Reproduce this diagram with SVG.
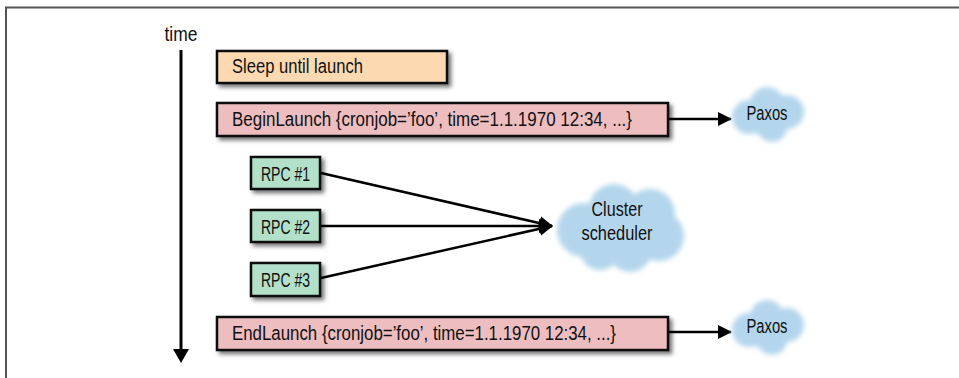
<svg xmlns="http://www.w3.org/2000/svg" width="959" height="378" viewBox="0 0 959 378">
<style>
.t{font-family:"Liberation Sans",Arial,sans-serif;font-size:19.5px;fill:#111}
.box{stroke:#111;stroke-width:2.5}
.ln{stroke:#000;stroke-width:2.5;fill:none}
.cloud{fill:#b4d6ec}
</style>
<defs>
<filter id="sh" x="-10%" y="-30%" width="130%" height="180%">
<feDropShadow dx="3" dy="3" stdDeviation="2" flood-color="#000" flood-opacity="0.55"/>
</filter>
<filter id="blur" x="-20%" y="-20%" width="140%" height="140%">
<feGaussianBlur stdDeviation="2.6"/>
</filter>
<marker id="ah" markerWidth="14" markerHeight="14" refX="13" refY="7" orient="auto" markerUnits="userSpaceOnUse">
<path d="M0,0 L14,7 L0,14 Z" fill="#000"/>
</marker>
</defs>
<rect width="959" height="378" fill="#fff"/>
<path d="M6,378 V7.5 H959" fill="none" stroke="#555" stroke-width="2"/>

<g id="time-axis">
<text class="t" x="181" y="41" text-anchor="middle" textLength="33" lengthAdjust="spacingAndGlyphs">time</text>
<line x1="181" y1="50" x2="181" y2="352" stroke="#000" stroke-width="3"/>
<path d="M173,349 L189,349 L181,363 Z" fill="#000"/>
</g>

<g id="connectors">
<line class="ln" x1="668" y1="119" x2="731" y2="119" marker-end="url(#ah)"/>
<line class="ln" x1="321" y1="173" x2="552" y2="226" marker-end="url(#ah)"/>
<line class="ln" x1="321" y1="226" x2="552" y2="226" marker-end="url(#ah)"/>
<line class="ln" x1="321" y1="278" x2="552" y2="226" marker-end="url(#ah)"/>
<line class="ln" x1="668" y1="332" x2="731" y2="332" marker-end="url(#ah)"/>
</g>

<g id="sleep">
<rect class="box" x="217" y="51" width="230" height="32" fill="#fdd9b2" filter="url(#sh)"/>
<text class="t" x="232" y="73" textLength="131" lengthAdjust="spacingAndGlyphs">Sleep until launch</text>
</g>

<g id="begin-launch">
<rect class="box" x="217" y="103" width="451" height="33" fill="#edbdc0" filter="url(#sh)"/>
<text class="t" x="232" y="126" textLength="400" lengthAdjust="spacingAndGlyphs">BeginLaunch {cronjob=’foo’, time=1.1.1970 12:34, ...}</text>
</g>

<g id="rpc1">
<rect class="box" x="251" y="157" width="69" height="32" fill="#b3e0c9" filter="url(#sh)"/>
<text class="t" x="261" y="181" textLength="49" lengthAdjust="spacingAndGlyphs">RPC #1</text>
</g>
<g id="rpc2">
<rect class="box" x="251" y="210" width="69" height="32" fill="#b3e0c9" filter="url(#sh)"/>
<text class="t" x="261" y="234" textLength="49" lengthAdjust="spacingAndGlyphs">RPC #2</text>
</g>
<g id="rpc3">
<rect class="box" x="251" y="263" width="69" height="33" fill="#b3e0c9" filter="url(#sh)"/>
<text class="t" x="261" y="287" textLength="49" lengthAdjust="spacingAndGlyphs">RPC #3</text>
</g>

<g id="end-launch">
<rect class="box" x="217" y="317" width="451" height="33" fill="#edbdc0" filter="url(#sh)"/>
<text class="t" x="232" y="340" textLength="384" lengthAdjust="spacingAndGlyphs">EndLaunch {cronjob=’foo’, time=1.1.1970 12:34, ...}</text>
</g>

<g id="paxos1">
<g class="cloud" filter="url(#blur)">
<circle cx="749" cy="117" r="17"/>
<circle cx="767" cy="104" r="17"/>
<circle cx="787" cy="112" r="17"/>
<circle cx="772" cy="127" r="15"/>
<circle cx="768" cy="115" r="22"/>
</g>
<text class="t" x="767" y="120" text-anchor="middle" textLength="41" lengthAdjust="spacingAndGlyphs">Paxos</text>
</g>

<g id="cluster-scheduler">
<g class="cloud" filter="url(#blur)">
<circle cx="584" cy="230" r="27"/>
<circle cx="614" cy="209" r="25"/>
<circle cx="650" cy="214" r="25"/>
<circle cx="659" cy="236" r="25"/>
<circle cx="630" cy="250" r="22"/>
<circle cx="600" cy="250" r="20"/>
<circle cx="620" cy="228" r="36"/>
</g>
<text class="t" x="617" y="216" text-anchor="middle" textLength="51" lengthAdjust="spacingAndGlyphs">Cluster</text>
<text class="t" x="617" y="240" text-anchor="middle" textLength="71" lengthAdjust="spacingAndGlyphs">scheduler</text>
</g>

<g id="paxos2">
<g class="cloud" filter="url(#blur)">
<circle cx="749" cy="330" r="17"/>
<circle cx="767" cy="317" r="17"/>
<circle cx="787" cy="325" r="17"/>
<circle cx="772" cy="340" r="15"/>
<circle cx="768" cy="328" r="22"/>
</g>
<text class="t" x="767" y="333" text-anchor="middle" textLength="41" lengthAdjust="spacingAndGlyphs">Paxos</text>
</g>
</svg>
